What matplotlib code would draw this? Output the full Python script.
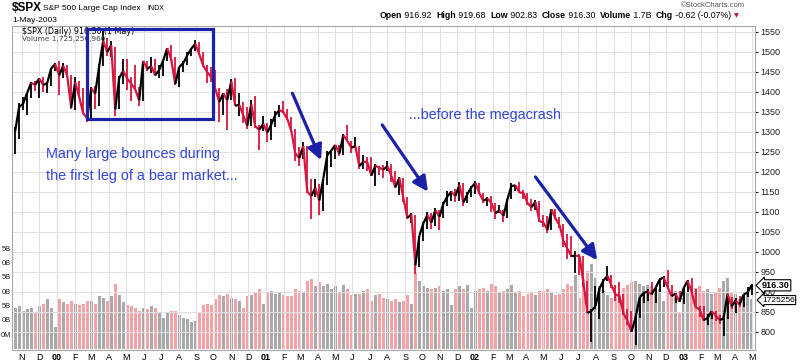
import numpy as np
import pandas as pd
import matplotlib
matplotlib.use("Agg")
import matplotlib.pyplot as plt
import matplotlib.dates as mdates
from matplotlib.collections import LineCollection
from matplotlib.patches import Rectangle

plt.rcParams["font.family"] = ["Liberation Sans", "DejaVu Sans"]

# weekly bars (Friday of each week), S&P 500
weeks = pd.date_range("1999-10-22", "2003-05-02", freq="W-FRI")

high = [
    1312, 1373,
    1387, 1397, 1425, 1428,
    1434, 1436, 1425, 1459, 1473,
    # 2000
    1478, 1473, 1466, 1442,
    1436, 1427, 1410, 1370,
    1413, 1414, 1470, 1553, 1534,
    1527, 1513, 1440, 1482,
    1481, 1436, 1466, 1413,
    1478, 1478, 1488, 1483, 1467,
    1480, 1510, 1518, 1486,
    1463, 1476, 1499, 1509,
    1530, 1524, 1499, 1467, 1461,
    1455, 1409, 1398, 1408,
    1433, 1434, 1396, 1374,
    1362, 1380, 1390, 1318, 1340,
    # 2001
    1321, 1333, 1353, 1367,
    1376, 1357, 1336, 1307,
    1263, 1274, 1264, 1182, 1183,
    1169, 1183, 1253, 1253,
    1268, 1267, 1294, 1316,
    1278, 1286, 1264, 1243, 1236,
    1237, 1219, 1215, 1218,
    1226, 1219, 1201, 1186, 1185,
    1136, 1096, 1092, 1040,
    1075, 1099, 1097, 1110,
    1104, 1124, 1152, 1152, 1158,
    1174, 1172, 1149, 1165,
    # 2002
    1176, 1173, 1148, 1136,
    1139, 1122, 1118, 1105,
    1131, 1173, 1167, 1174, 1154,
    1147, 1132, 1130, 1127,
    1092, 1089, 1107, 1106, 1086,
    1069, 1044, 1040, 1003,
    995, 990, 927, 857,
    915, 910, 931, 965, 941,
    916, 925, 894, 856,
    852, 845, 887, 900,
    907, 925, 910, 935, 939,
    954, 916, 897, 903,
    # 2003
    911, 930, 935, 906, 864,
    865, 845, 852, 852,
    842, 834, 895, 888,
    885, 889, 893, 913,
    920,
]

low = [
    1245, 1281,
    1355, 1343, 1385, 1403,
    1384, 1399, 1397, 1414, 1451,
    # 2000
    1391, 1435, 1437, 1358,
    1355, 1386, 1345, 1325,
    1331, 1356, 1365, 1464, 1490,
    1486, 1339, 1356, 1420,
    1405, 1376, 1405, 1365,
    1378, 1452, 1446, 1440, 1434,
    1440, 1476, 1476, 1417,
    1413, 1449, 1468, 1490,
    1502, 1493, 1463, 1421, 1425,
    1400, 1325, 1342, 1305,
    1379, 1365, 1339, 1322,
    1306, 1314, 1309, 1255, 1302,
    # 2001
    1274, 1280, 1313, 1338,
    1348, 1329, 1300, 1228,
    1214, 1232, 1148, 1081, 1137,
    1091, 1101, 1167, 1213,
    1232, 1240, 1242, 1276,
    1247, 1260, 1208, 1208, 1203,
    1190, 1165, 1193, 1184,
    1203, 1175, 1160, 1141, 1124,
    1083, 1073, 944, 962,
    1026, 1056, 1057, 1064,
    1054, 1085, 1115, 1127, 1125,
    1126, 1114, 1123, 1137,
    # 2002
    1145, 1145, 1122, 1114,
    1100, 1081, 1096, 1074,
    1084, 1131, 1151, 1146, 1131,
    1118, 1101, 1104, 1075,
    1063, 1048, 1054, 1081, 1059,
    1012, 981, 987, 948,
    941, 911, 847, 775,
    857, 833, 897, 927, 909,
    877, 871, 843, 817,
    800, 768, 835, 873,
    877, 891, 872, 900, 911,
    906, 889, 871, 874,
    # 2003
    869, 900, 900, 861, 837,
    826, 817, 832, 826,
    819, 789, 833, 858,
    846, 863, 862, 888,
    893,
]

close = [
    1301, 1362,
    1370, 1397, 1422, 1417,
    1433, 1417, 1421, 1458, 1469,
    # 2000
    1441, 1465, 1441, 1360,
    1424, 1387, 1346, 1333,
    1409, 1395, 1464, 1527, 1499,
    1516, 1356, 1434, 1452,
    1433, 1420, 1406, 1378,
    1477, 1457, 1464, 1441, 1455,
    1478, 1509, 1481, 1419,
    1462, 1471, 1491, 1507,
    1520, 1494, 1465, 1449, 1436,
    1408, 1374, 1396, 1379,
    1426, 1365, 1367, 1341,
    1315, 1369, 1313, 1305, 1320,
    # 2001
    1298, 1318, 1342, 1354,
    1349, 1332, 1302, 1246,
    1234, 1264, 1150, 1139, 1160,
    1128, 1183, 1242, 1253,
    1267, 1245, 1291, 1277,
    1260, 1264, 1214, 1225, 1224,
    1190, 1215, 1210, 1205,
    1214, 1190, 1161, 1185, 1134,
    1085, 1093, 966, 1040,
    1071, 1092, 1073, 1104,
    1087, 1120, 1138, 1150, 1139,
    1167, 1123, 1144, 1161,
    # 2002
    1172, 1146, 1127, 1133,
    1122, 1096, 1104, 1089,
    1131, 1164, 1166, 1148, 1147,
    1122, 1111, 1125, 1076,
    1073, 1054, 1106, 1083, 1067,
    1027, 1007, 989, 990,
    989, 921, 847, 852,
    864, 908, 928, 940, 916,
    893, 889, 846, 827,
    800, 835, 884, 897,
    900, 894, 909, 930, 936,
    912, 889, 895, 875,
    # 2003
    908, 927, 901, 861, 856,
    829, 834, 851, 841,
    829, 833, 895, 863,
    878, 868, 893, 898,
    916,
]

# volume, billions of shares
volume = [
    1.45, 1.5,
    1.35, 1.4, 1.45, 1.3,
    1.5, 1.6, 1.75, 1.45, 0.8,
    # 2000
    1.75, 1.65, 1.6, 1.7,
    1.6, 1.55, 1.6, 1.7,
    1.7, 1.6, 1.85, 1.8, 1.7,
    1.85, 2.3, 1.9, 1.65,
    1.55, 1.5, 1.45, 1.35,
    1.45, 1.4, 1.5, 1.45, 1.3,
    1.1, 1.3, 1.35, 1.35,
    1.2, 1.1, 1.05, 0.95,
    1.0, 1.3, 1.55, 1.6, 1.55,
    1.75, 1.9, 1.85, 1.95,
    1.8, 1.75, 1.7, 1.45,
    1.85, 1.9, 2.0, 2.1, 1.6,
    # 2001
    2.0, 2.05, 1.95, 2.0,
    1.9, 1.85, 1.85, 2.1,
    2.05, 2.0, 2.4, 2.45, 2.2,
    2.35, 2.2, 2.3, 2.1,
    2.2, 2.0, 2.25, 2.1,
    1.9, 1.95, 1.95, 2.05, 2.1,
    1.7, 1.9, 1.95, 1.8,
    1.75, 1.7, 1.75, 1.65, 1.7,
    1.9, 1.6, 2.7, 2.4,
    2.2, 2.15, 2.1, 2.15,
    2.2, 2.05, 2.1, 1.55, 2.1,
    2.2, 2.1, 2.25, 1.45,
    # 2002
    2.05, 2.1, 2.15, 2.05,
    2.3, 2.2, 2.0, 2.05,
    2.1, 2.25, 2.0, 2.05, 1.85,
    1.95, 2.0, 1.9, 2.05,
    2.05, 2.1, 2.0, 1.9, 1.95,
    2.1, 2.3, 2.2, 2.6,
    1.8, 2.45, 2.75, 3.0,
    2.5, 2.2, 2.05, 1.9, 1.8,
    1.9, 1.95, 2.15, 2.25,
    2.35, 2.4, 2.3, 2.2,
    2.25, 2.2, 2.1, 2.1, 1.7,
    2.05, 1.95, 2.05, 1.3,
    # 2003
    1.8, 2.0, 2.1, 2.15, 2.2,
    2.05, 2.1, 1.95, 2.0,
    2.15, 2.4, 2.5, 2.0,
    1.95, 1.75, 1.85, 2.0,
    1.75,
]

# left volume scale; the chart edge cuts the labels down to their last two characters
vol_ticks = [0.5, 1.0, 1.5, 2.0, 2.5, 3.0, 3.5]
vol_tick_labels = ["0M", "0B", "5B", "0B", "5B", "0B", "5B"]
price_ticks = list(range(800, 1551, 50))

BLUE_LINE = "#1c22a8"
BLUE_TEXT = "#3447d6"
UP, DOWN = "black", "#d8153f"
VUP, VDOWN = "#a9a9a9", "#f1a3a8"

hi, lo, cl, vol = map(np.asarray, (high, low, close, volume))
x = mdates.date2num(weeks) - 2           # centre each week on its Wednesday
up = np.r_[True, cl[1:] >= cl[:-1]]

fig = plt.figure(figsize=(8, 3.63), dpi=100)
rect = [11.7 / 800, 13 / 363, (755 - 11.7) / 800, 324 / 363]
vax = fig.add_axes(rect)
ax = fig.add_axes(rect, sharex=vax)
ax.patch.set_visible(False)

# ---- volume ----
vax.bar(x, vol, width=5, color=np.where(up, VUP, VDOWN), linewidth=0)
vax.set_ylim(-0.02, 11.3)
vax.set_yticks([])
for s in vax.spines.values():
    s.set_visible(False)
for v, lab in zip(vol_ticks, vol_tick_labels):
    vax.text(-0.0006, v, lab, transform=vax.get_yaxis_transform(), ha="right",
             va="center", fontsize=5.4, color="#222222", clip_on=False)

# ---- price ----
cols = np.where(up, UP, DOWN)
ax.vlines(x, lo, hi, colors=cols, lw=1.3, zorder=4)
segs = [[(x[i - 1], cl[i - 1]), (x[i], cl[i])] for i in range(1, len(x))]
ax.add_collection(LineCollection(segs, colors=cols[1:], lw=1.6, zorder=4))

ax.set_xlim(mdates.date2num(pd.Timestamp("1999-10-14")),
            mdates.date2num(pd.Timestamp("2003-05-06")))
ax.set_ylim(754.25, 1564.25)

months = pd.date_range("1999-11-01", "2003-05-01", freq="MS")
mlabels = [m.strftime("%y") if m.month == 1 else m.strftime("%b")[0] for m in months]
ax.set_xticks(mdates.date2num(months))
ax.set_xticklabels(mlabels)
for t, m in zip(ax.get_xticklabels(), months):
    if m.month == 1:
        t.set_fontweight("bold")
ax.tick_params(axis="x", length=0, pad=2, labelsize=6.5)
vax.tick_params(axis="x", length=0, labelbottom=False)

ax.yaxis.tick_right()
ax.set_yticks(price_ticks)
ax.tick_params(axis="y", length=2, pad=2, labelsize=6.5, colors="#222222")
ax.grid(True, color="#e0e0e0", lw=0.7, zorder=0)
for m in months[months.month == 1]:
    ax.axvline(mdates.date2num(m), color="#b8b8b8", lw=0.8, zorder=1)
for s in ax.spines.values():
    s.set_color("#a8a8a8")
    s.set_linewidth(0.8)

# last value tags
ax.annotate("916.30", xy=(1, cl[-1]), xycoords=("axes fraction", "data"),
            xytext=(5, 0), textcoords="offset points", va="center", ha="left",
            fontsize=6.5, fontweight="bold",
            bbox=dict(boxstyle="larrow,pad=0.12", fc="white", ec="black", lw=0.8))
vax.annotate("1725256", xy=(1, 1.725), xycoords=("axes fraction", "data"),
             xytext=(5, 0), textcoords="offset points", va="center", ha="left",
             fontsize=6, bbox=dict(boxstyle="larrow,pad=0.12", fc="white", ec="black", lw=0.8))

# ---- annotations ----
d = lambda s: mdates.date2num(pd.Timestamp(s))
ax.add_patch(Rectangle((d("2000-02-22"), 1331), d("2000-09-30") - d("2000-02-22"), 1558 - 1331,
                       fill=False, ec=BLUE_LINE, lw=2.3, zorder=6))
arrows = [(("2001-02-16", 1396), ("2001-04-07", 1229)),
          (("2001-07-23", 1317), ("2001-10-11", 1150)),
          (("2002-04-17", 1187), ("2002-08-03", 979))]
for (s0, p0), (s1, p1) in arrows:
    ax.annotate("", xy=(d(s1), p1), xytext=(d(s0), p0),
                arrowprops=dict(arrowstyle="-|>,head_length=0.9,head_width=0.45",
                                color=BLUE_LINE, lw=2.3, shrinkA=0, shrinkB=0), zorder=6)
ax.text(d("1999-12-13"), 1244, "Many large bounces during", color=BLUE_TEXT,
        fontsize=10.4, va="center", ha="left", zorder=6)
ax.text(d("1999-12-13"), 1189, "the first leg of a bear market...", color=BLUE_TEXT,
        fontsize=10.4, va="center", ha="left", zorder=6)
ax.text(d("2001-09-07"), 1342, "...before the megacrash", color=BLUE_TEXT,
        fontsize=10.4, va="center", ha="left", zorder=6)

ax.text(22 / 800, 1 - 31.7 / 363, "$SPX (Daily) 916.30 (1 May)", transform=fig.transFigure,
        fontsize=5.8, family="DejaVu Sans", va="center", ha="left", zorder=5)
ax.text(22 / 800, 1 - 39.3 / 363, "Volume 1,725,256,960", transform=fig.transFigure,
        fontsize=5.3, family="DejaVu Sans", color="#444444", va="center", ha="left", zorder=5)

# ---- header ----
fig.text(12 / 800, 1 - 8 / 363, "$SPX", fontsize=8.5, fontweight="bold", va="center")
fig.text(43 / 800, 1 - 8 / 363, "S&P 500 Large Cap Index", fontsize=6, va="center")
fig.text(147 / 800, 1 - 8 / 363, "INDX", fontsize=5, va="center")
fig.text(12 / 800, 1 - 20 / 363, "1-May-2003", fontsize=6, va="center")
fig.text(745 / 800, 1 - 5.7 / 363, "\u00a9StockCharts.com", fontsize=5.5, color="#555555",
         va="center", ha="right")

pieces = [("Open", True), (" 916.92  ", False), ("High", True), (" 919.68  ", False),
          ("Low", True), (" 902.83  ", False), ("Close", True), (" 916.30  ", False),
          ("Volume", True), (" 1.7B  ", False), ("Chg", True), (" -0.62 (-0.07%) ", False)]
r = fig.canvas.get_renderer()
px = 380
for txt, bold in pieces:
    t = fig.text(px / 800, 1 - 15.5 / 363, txt, fontsize=6.3, va="center", ha="left",
                 fontweight="bold" if bold else "normal")
    px += t.get_window_extent(r).width
fig.text(px / 800, 1 - 15.5 / 363, "\u25bc", fontsize=4.5, color="#c8102e", va="center",
         family="DejaVu Sans")

fig.savefig("out.png", dpi=100)
